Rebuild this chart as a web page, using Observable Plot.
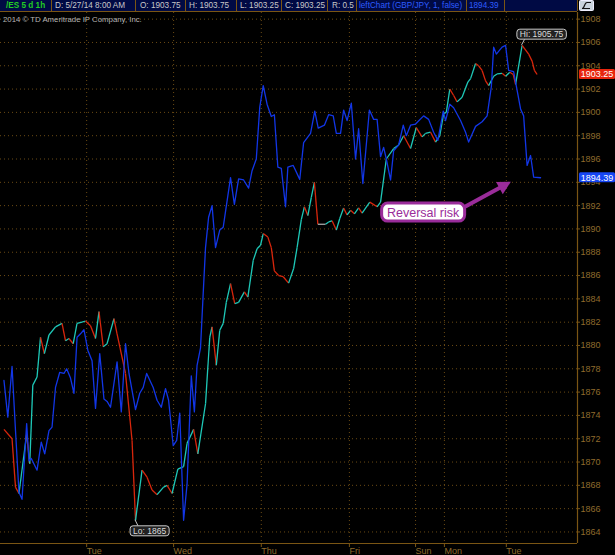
<!DOCTYPE html>
<html><head><meta charset="utf-8">
<script src="https://cdn.jsdelivr.net/npm/d3@7"></script>
<script src="https://cdn.jsdelivr.net/npm/@observablehq/plot@0.6"></script>
<style>
html,body{margin:0;padding:0;background:#000;}
#wrap{position:relative;width:615px;height:555px;overflow:hidden;background:#000;font-family:"Liberation Sans",Arial,sans-serif;}
#wrap svg{position:absolute;left:0;top:0;}
#hdr{position:absolute;left:0;top:0;width:577px;height:11px;background:#000a44;border-bottom:1px solid #7a5514;}
.c{position:absolute;top:0;height:11px;line-height:11px;font-size:8.2px;color:#c8c8c8;white-space:nowrap;}
.s{position:absolute;top:0;width:1px;height:11px;background:#7a5514;}
#copy{position:absolute;left:3px;top:15px;font-size:7.8px;line-height:10px;color:#b4b4b4;white-space:nowrap;}
#icon{position:absolute;left:579px;top:0;width:15px;height:11px;}
</style></head><body><div id="wrap"></div>
<script>
// ---- data (hourly bars, /ES 5 d 1h) ----
const esBar = [0.9,3.0,3.9,4.8,6.8,7.6,8.4,9.5,10.4,11.4,12.6,14.3,16.0,16.9,17.8,18.9,19.9,21.2,22.1,23.4,24.7,25.6,26.7,27.7,29.5,30.3,32.5,34.2,35.1,36.8,38.1,39.4,40.7,42.4,43.3,44.6,46.1,47.6,48.5,50.2,51.3,53.3,54.4,55.0,56.1,57.0,57.9,58.7,59.8,60.9,61.9,63.4,64.3,65.7,66.7,67.6,68.3,69.5,70.4,71.2,72.3,73.5,74.9,76.2,77.1,78.2,79.0,79.9,80.8,81.6,82.5,84.5,85.3,86.2,87.3,88.2,89.2,90.1,91.0,92.0,93.1,94.0,96.0,97.9,98.8,100.3,102.2,103.5,104.8,106.6,108.1,109.6,110.5,111.8,113.1,114.2,115.2,115.9,116.8,117.8,118.7,120.0,121.5,122.2,123.5,124.3,125.2,126.1,126.9,128.2,129.1,130.4,131.3,132.4,133.3,133.9,135.6,137.3,138.2,138.8,139.5];
const esClose = [1872.8,1872.0,1867.85,1867.3,1872.4,1869.85,1876.6,1877.3,1880.7,1879.3,1880.9,1881.6,1881.9,1880.4,1880.6,1880.15,1881.9,1882.0,1882.1,1881.7,1880.6,1882.9,1879.9,1880.15,1882.3,1881.0,1877.6,1871.85,1865.0,1869.3,1868.7,1867.6,1867.2,1867.85,1868.0,1867.3,1869.4,1869.6,1871.6,1872.8,1870.7,1875.0,1880.7,1881.6,1878.3,1881.3,1881.9,1883.7,1885.3,1883.6,1883.7,1884.6,1884.15,1887.3,1888.3,1888.6,1889.6,1889.3,1888.4,1886.4,1886.0,1885.9,1885.35,1886.6,1888.4,1890.8,1891.9,1891.15,1892.7,1894.0,1890.4,1890.4,1890.6,1890.7,1889.9,1890.9,1891.8,1891.2,1891.6,1891.3,1891.8,1891.35,1892.3,1891.9,1892.3,1896.0,1896.9,1897.2,1898.0,1896.9,1898.7,1897.9,1898.2,1898.3,1897.45,1898.0,1899.9,1900.0,1902.0,1901.45,1900.9,1901.3,1902.6,1902.9,1904.2,1904.0,1903.6,1902.7,1902.3,1903.1,1903.3,1903.35,1903.1,1903.45,1903.25,1902.4,1905.75,1905.0,1904.4,1903.6,1903.25];

// leftChart (GBP/JPY) study, drawn on the /ES price scale
const gbpBar = [0.9,1.9,3.0,3.9,4.8,5.6,6.8,7.4,8.0,9.5,10.6,11.5,12.6,13.4,14.3,15.4,16.5,17.2,18.2,19.1,19.9,20.8,21.7,22.7,23.8,24.7,25.8,26.9,27.7,28.6,30.3,31.4,32.5,33.4,35.1,36.2,37.1,38.0,39.7,40.7,41.8,42.9,43.7,44.9,45.8,46.6,47.6,48.5,49.6,50.4,51.1,52.0,52.7,53.3,54.1,55.0,55.9,57.0,57.9,59.8,60.8,61.9,63.2,64.5,65.4,66.5,67.4,68.3,69.3,70.4,71.2,72.1,73.0,74.1,74.7,76.1,77.8,78.8,80.6,81.7,82.6,84.2,85.3,86.5,87.3,88.4,89.2,90.1,91.2,92.3,93.1,94.2,95.9,97.0,97.9,98.8,99.6,100.3,101.4,102.2,103.5,104.7,105.5,106.6,107.9,110.0,111.3,112.6,113.7,115.1,115.7,116.8,117.8,119.6,120.9,121.7,123.5,125.2,126.5,127.6,128.2,128.9,130.4,131.3,132.1,133.4,135.2,136.0,136.9,137.8,138.6,140.4];
const gbpValue = [1877.0,1873.85,1878.2,1872.7,1867.4,1866.8,1873.3,1870.1,1870.3,1869.3,1871.7,1870.7,1872.7,1873.0,1876.4,1877.7,1877.6,1878.0,1877.2,1875.9,1880.7,1881.0,1881.35,1879.6,1878.7,1874.6,1879.3,1875.4,1875.2,1874.7,1878.6,1874.3,1880.15,1877.6,1874.5,1875.9,1876.4,1877.6,1876.4,1875.3,1874.7,1876.3,1875.3,1871.4,1871.85,1874.2,1865.0,1868.1,1877.4,1874.3,1878.3,1879.8,1884.5,1888.4,1891.0,1892.0,1888.4,1889.9,1890.15,1894.4,1892.1,1894.3,1894.2,1893.5,1895.0,1896.0,1900.45,1902.3,1900.7,1899.65,1899.8,1895.3,1895.2,1891.9,1895.3,1895.45,1894.25,1897.4,1898.2,1900.1,1898.65,1898.9,1899.8,1899.7,1898.2,1898.2,1900.2,1899.3,1900.8,1896.0,1898.6,1893.9,1900.2,1899.4,1899.4,1896.2,1897.0,1896.0,1894.2,1896.7,1897.2,1898.9,1898.0,1898.9,1899.0,1899.7,1899.4,1898.3,1897.6,1900.1,1899.3,1900.7,1900.4,1899.3,1898.3,1897.45,1898.8,1899.2,1899.7,1902.2,1905.6,1905.0,1905.6,1905.75,1903.6,1903.5,1900.3,1899.7,1895.45,1896.3,1894.45,1894.39];

const dayBars = [22.4,45.0,67.8,90.7,107.9,115.4,131.5];
const dayLabels = ["Tue","Wed","Thu","Fri","Sun","Mon","Tue"];
const priceTicks = d3.range(1864, 1909, 2);

const headerCells = [
  {text:"/ES 5 d 1h", x:6, color:"#22cc22", bold:true},
  {text:"D: 5/27/14 8:00 AM", x:55},
  {text:"O: 1903.75", x:140},
  {text:"H: 1903.75", x:189},
  {text:"L: 1903.25", x:240},
  {text:"C: 1903.25", x:285},
  {text:"R: 0.5", x:332},
  {text:"leftChart (GBP/JPY, 1, false)", x:359, color:"#2e5cff"},
  {text:"1894.39", x:469, color:"#2e5cff"}
];
const headerSeps = [51,135,185,236,281,327,356,466,504,577];
const copyright = "2014 © TD Ameritrade IP Company, Inc.";
const reversal = {text:"Reversal risk", bar:110.0, value:1891.4, toBar:132.8, toValue:1894.0};

// ---- chart ----
const W = 615, H = 555;
const yDomain = [1863.01, 1908.57];
const UP = "#1ec8b8", DOWN = "#d8260c", FLAT = "#a8a8a8", BLUE = "#1236e6";
const GRID = "#6a4a14", AXIS = "#7a5514", LABEL = "#8f6b2c";

const es = esBar.map((b,i)=>({bar:b, value:esClose[i]}));
const gbp = gbpBar.map((b,i)=>({bar:b, value:gbpValue[i]}));
const esSegs = d3.pairs(es).map(([a,b])=>({x1:a.bar,y1:a.value,x2:b.bar,y2:b.value}));

const chart = Plot.plot({
  width: W, height: H,
  marginTop: 12, marginBottom: 12, marginLeft: 0, marginRight: 38,
  style: {background:"#000", color: LABEL, fontFamily:"Liberation Sans, Arial, sans-serif", fontSize:"9px", overflow:"visible"},
  x: {domain:[0,150]},
  y: {domain: yDomain},
  marks: [
    Plot.ruleY(priceTicks, {stroke: GRID, strokeDasharray:"1,3", strokeWidth:1}),
    Plot.ruleX(dayBars, {stroke: GRID, strokeDasharray:"1,3", strokeWidth:1}),
    Plot.link(esSegs, {x1:"x1", y1:"y1", x2:"x2", y2:"y2",
      stroke: d => d.y2 > d.y1 ? UP : d.y2 < d.y1 ? DOWN : FLAT, strokeWidth:1.3, clip:true}),
    Plot.line(gbp, {x:"bar", y:"value", stroke: BLUE, strokeWidth:1.3, clip:true}),
    Plot.ruleX([150], {stroke: AXIS, strokeWidth:1.2}),
    Plot.ruleY([yDomain[0]], {stroke: AXIS, strokeWidth:1.2}),
    Plot.axisY(priceTicks, {anchor:"right", tickSize:2, tickPadding:1, stroke: AXIS, fill: LABEL, tickFormat: d => String(d), textAnchor:"start"}),
    Plot.axisX(dayBars, {anchor:"bottom", tickSize:4, tickPadding:0, stroke: AXIS, fill: LABEL, tickFormat:(d,i)=>dayLabels[i], textAnchor:"start", dx:0})
  ]
});

const wrap = document.getElementById("wrap");
wrap.appendChild(chart);

// scale helpers from the rendered plot
function scaleFn(name){
  const s = chart.scale(name);
  return s.apply ? s.apply : d3.scaleLinear(s.domain, s.range);
}
const sx = scaleFn("x"), sy = scaleFn("y");
const svg = d3.select(chart.tagName.toLowerCase()==="svg" ? chart : chart.querySelector("svg"));
svg.style("position","absolute").style("left","0px").style("top","0px");
const ann = svg.append("g").attr("font-family","Liberation Sans, Arial, sans-serif");

// Hi / Lo labels
function extremeLabel(idx, above){
  const d = es[idx];
  const px = sx(d.bar), py = sy(d.value);
  const txt = (above ? "Hi: " : "Lo: ") + d.value;
  const t = ann.append("text").text(txt).attr("font-size", 8.5).attr("fill", "#dcdcdc").attr("text-anchor","middle");
  const w = t.node().getComputedTextLength() + 6, h = 10;
  const cx = above ? px + 20 : px + 14.6;
  const top = above ? py - 15.7 : py + 6;
  ann.insert("line", "text").attr("x1", px).attr("y1", py).attr("x2", px + 3).attr("y2", above ? top + h : top)
    .attr("stroke", "#c8c8c8").attr("stroke-width", 1);
  ann.insert("rect", "text").attr("x", cx - w/2).attr("y", top).attr("width", w).attr("height", h).attr("rx", 3)
    .attr("fill", "#222").attr("stroke", "#c8c8c8").attr("stroke-width", 1);
  t.attr("x", cx).attr("y", top + 8);
}
extremeLabel(d3.maxIndex(esClose), true);
extremeLabel(d3.minIndex(esClose), false);

// last-value boxes on the price axis
function priceBox(value, fill){
  const py = sy(value);
  ann.append("rect").attr("x", 579).attr("y", py - 5).attr("width", 36).attr("height", 10).attr("rx", 1.5).attr("fill", fill);
  ann.append("text").text(value.toFixed(2)).attr("x", 597).attr("y", py + 3.3).attr("text-anchor","middle")
    .attr("font-size", 9).attr("fill", "#fff");
}
priceBox(esClose[esClose.length-1], "#e8260e");
priceBox(gbpValue[gbpValue.length-1], "#1646f4");

// "Reversal risk" callout with arrow
{
  const PURPLE = "#9a2c9a";
  const cx = sx(reversal.bar), cy = sy(reversal.value);
  const bw = 83, bh = 18;
  const tx = sx(reversal.toBar), ty = sy(reversal.toValue);
  const x0 = cx + bw/2 - 2, y0 = cy - 4;
  const dx = tx - x0, dy = ty - y0, L = Math.hypot(dx, dy), ux = dx/L, uy = dy/L;
  const hl = 13, hw = 7;
  const bxp = tx - ux*hl, byp = ty - uy*hl;
  ann.append("line").attr("x1", x0).attr("y1", y0).attr("x2", bxp + ux*2).attr("y2", byp + uy*2)
    .attr("stroke", PURPLE).attr("stroke-width", 4).attr("stroke-linecap","round");
  ann.append("path").attr("d", `M${tx},${ty}L${bxp - uy*hw},${byp + ux*hw}L${bxp + uy*hw},${byp - ux*hw}Z`).attr("fill", PURPLE);
  ann.append("rect").attr("x", cx - bw/2).attr("y", cy - bh/2).attr("width", bw).attr("height", bh).attr("rx", 6)
    .attr("fill", "#fff").attr("stroke", PURPLE).attr("stroke-width", 3);
  ann.append("text").text(reversal.text).attr("x", cx).attr("y", cy + 4.5).attr("text-anchor","middle")
    .attr("font-size", 12.5).attr("fill", PURPLE);
}

// header bar
const hdr = document.createElement("div"); hdr.id = "hdr"; wrap.appendChild(hdr);
headerSeps.forEach(x => { const s = document.createElement("div"); s.className = "s"; s.style.left = x + "px"; hdr.appendChild(s); });
headerCells.forEach(c => {
  const e = document.createElement("div"); e.className = "c"; e.textContent = c.text; e.style.left = c.x + "px";
  if (c.color) e.style.color = c.color; if (c.bold) e.style.fontWeight = "bold";
  hdr.appendChild(e);
});
const icon = document.createElement("div"); icon.id = "icon";
icon.innerHTML = '<svg width="15" height="11"><rect x="0.5" y="0.5" width="14" height="10" rx="1" fill="#c9d3dc" stroke="#eef" stroke-width="1"/><path d="M3,8.5 C6,8.5 5,2.5 8,2.5 L12,2.5 M3,8.5 L11,8.5" fill="none" stroke="#111" stroke-width="1.2"/></svg>';
wrap.appendChild(icon);
const cp = document.createElement("div"); cp.id = "copy"; cp.textContent = copyright; wrap.appendChild(cp);
</script>
</body></html>
